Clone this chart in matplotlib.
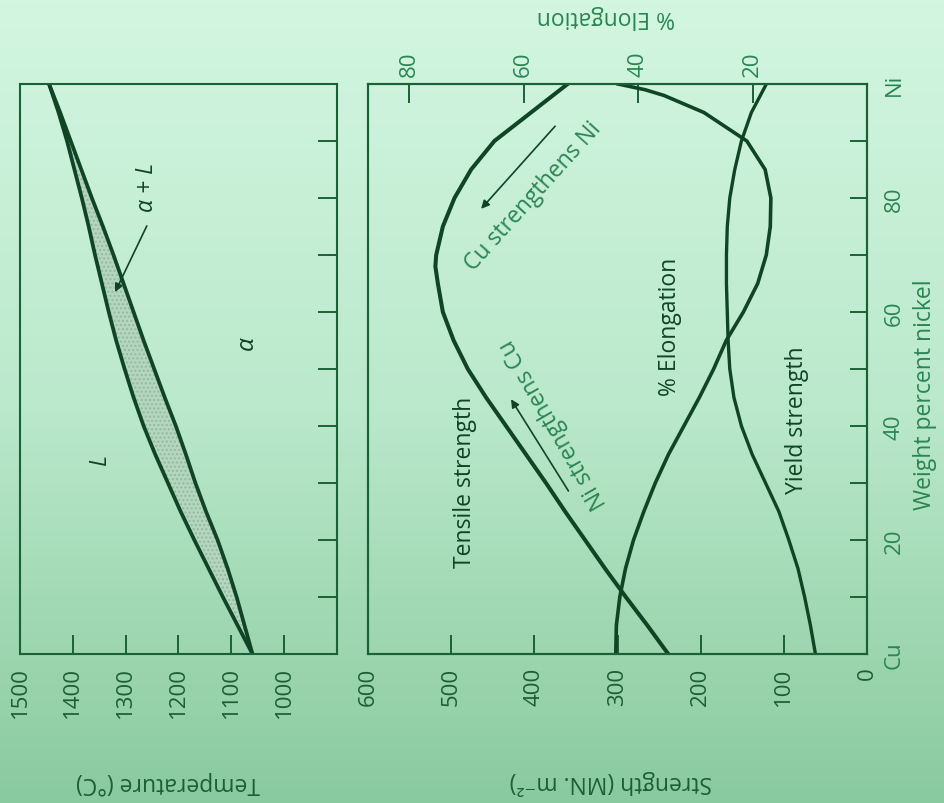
import numpy as np
import matplotlib
matplotlib.use('Agg')
import matplotlib.pyplot as plt
from matplotlib.colors import LinearSegmentedColormap

plt.rcParams['font.family'] = ['Open Sans', 'DejaVu Sans']

# ---------------- data ----------------
phase_wt = [0, 5, 10, 15, 20, 25, 30, 35, 40, 45, 50, 55, 60, 65, 70, 75, 80, 85, 90, 95, 100]
liquidus = [1060, 1088, 1116, 1143, 1170, 1196, 1220, 1244, 1266, 1285, 1302, 1318, 1332, 1345,
            1358, 1370, 1383, 1397, 1411, 1427, 1445]
solidus = [1060, 1075, 1090, 1107, 1126, 1148, 1168, 1186, 1205, 1226, 1246, 1266, 1285, 1304,
           1323, 1343, 1364, 1384, 1404, 1424, 1445]

tensile_wt = [0, 5, 10, 15, 20, 25, 30, 35, 40, 45, 50, 55, 60, 65, 68, 70, 75, 80, 85, 90, 95, 100]
tensile = [239, 264, 290, 315, 339, 363, 386, 410, 434, 458, 480, 497, 510, 516, 519, 518, 510,
           496, 476, 448, 404, 360]

yield_wt = [0, 5, 10, 15, 20, 25, 30, 35, 40, 45, 50, 55, 60, 65, 70, 75, 80, 85, 90, 95, 100]
yield_str = [62, 68, 75, 83, 94, 106, 122, 138, 151, 160, 165, 167, 168, 169, 169, 168, 165, 159,
             151, 139, 121]

elong_wt = [0, 5, 10, 15, 20, 25, 30, 35, 40, 45, 50, 55, 60, 65, 70, 75, 80, 85, 90, 95, 98, 99, 100]
elong = [43.9, 43.8, 43.2, 42.2, 40.8, 39.0, 37.0, 34.7, 32.0, 29.3, 26.8, 24.6, 21.6, 19.1, 17.6,
         16.9, 16.8, 17.8, 21.0, 28.5, 35.5, 38.8, 43.5]

temp_ticks = [1000, 1100, 1200, 1300, 1400, 1500]
strength_ticks = [0, 100, 200, 300, 400, 500, 600]
elong_ticks = [20, 40, 60, 80]
wt_minor = [10, 20, 30, 40, 50, 60, 70, 80, 90]
wt_ticks = [0, 10, 20, 30, 40, 50, 60, 70, 80, 90, 100]
wt_labels = ['Cu', '', '20', '', '40', '', '60', '', '80', '', 'Ni']

# ---------------- style ----------------
LINE = '#0f4524'
FRAME = '#1a6236'
TICKTXT = '#1c5e36'
ANNOT = '#2a8552'
FS = 16.5
TFS = 16

W, H = 945, 804
fig = plt.figure(figsize=(W / 100, H / 100), dpi=100)


def box(x0, y0, x1, y1):
    return [x0 / W, 1 - y1 / H, (x1 - x0) / W, (y1 - y0) / H]


bg = fig.add_axes([0, 0, 1, 1], zorder=-10)
grad = np.linspace(0, 1, 256).reshape(-1, 1)
cmap = LinearSegmentedColormap.from_list('bg', ['#d3f6e1', '#bbe9cc', '#8aca9f'])
bg.imshow(grad, aspect='auto', cmap=cmap, extent=[0, 1, 0, 1], origin='upper')
bg.axis('off')


def style_spines(ax):
    for s in ax.spines.values():
        s.set_color(FRAME)
        s.set_linewidth(1.5)


# ---------------- phase diagram panel ----------------
ax1 = fig.add_axes(box(20, 85, 337, 655))
ax1.set_facecolor('none')
ax1.set_xlim(1500, 900)
ax1.set_ylim(0, 100)
ax1.fill_betweenx(phase_wt, solidus, liquidus, facecolor='#b4d6bf', edgecolor='#93b9a0',
                  hatch='....', lw=0)
ax1.plot(liquidus, phase_wt, color=LINE, lw=2.7, solid_capstyle='round')
ax1.plot(solidus, phase_wt, color=LINE, lw=2.7, solid_capstyle='round')
ax1.set_xticks(temp_ticks)
ax1.set_xticklabels([str(t) for t in temp_ticks], rotation=90)
ax1.tick_params(axis='x', direction='in', length=14, width=1.4, pad=9, labelsize=TFS,
                color=FRAME, labelcolor=TICKTXT)
ax1.yaxis.tick_right()
ax1.set_yticks(wt_minor)
ax1.set_yticklabels([])
ax1.tick_params(axis='y', direction='in', length=14, width=1.4, color=FRAME)
style_spines(ax1)

ax1.text(1349, 34.2, 'L', rotation=90, ha='center', va='center', fontsize=FS,
         style='italic', color=LINE)
ax1.text(1260, 82.1, 'α + L', rotation=90, ha='center', va='center', fontsize=FS,
         style='italic', color=LINE)
ax1.text(1070, 54.7, 'α', rotation=90, ha='center', va='center', fontsize=FS + 1,
         style='italic', color=LINE)
ax1.annotate('', xy=(1320, 63.5), xytext=(1260, 75.1),
             arrowprops=dict(arrowstyle='-|>', color=LINE, lw=1.2, mutation_scale=12,
                             shrinkA=0, shrinkB=0))

# ---------------- strength panel ----------------
ax2 = fig.add_axes(box(368, 85, 867, 655))
ax2.set_facecolor('none')
ax3 = ax2.twiny()
ax3.set_facecolor('none')

ax2.set_xlim(600, 0)
ax2.set_ylim(0, 100)
ax3.set_xlim(87.2, 0)

ax2.plot(tensile, tensile_wt, color=LINE, lw=2.9, solid_joinstyle='round')
ax2.plot(yield_str, yield_wt, color=LINE, lw=2.4, solid_joinstyle='round')
ax3.plot(elong, elong_wt, color=LINE, lw=2.6, solid_joinstyle='round')

ax2.set_xticks(strength_ticks)
ax2.set_xticklabels([str(t) for t in strength_ticks], rotation=90)
ax2.tick_params(axis='x', direction='in', length=14, width=1.4, pad=9, labelsize=TFS,
                color=FRAME, labelcolor=TICKTXT)
ax2.yaxis.tick_right()
ax2.set_yticks(wt_ticks)
ax2.set_yticklabels(wt_labels, rotation=90, va='center')
ax2.tick_params(axis='y', direction='in', length=12, width=1.4, pad=12, labelsize=TFS,
                color=FRAME, labelcolor=ANNOT)

ax3.set_xticks(elong_ticks)
ax3.set_xticklabels([str(t) for t in elong_ticks], rotation=90)
ax3.tick_params(axis='x', direction='in', length=14, width=1.4, pad=6, labelsize=TFS,
                color=FRAME, labelcolor=ANNOT)
style_spines(ax2)
style_spines(ax3)

ax2.text(483, 30.2, 'Tensile strength', rotation=90, ha='center', va='center',
         fontsize=FS, color=LINE)
ax2.text(377, 40.5, 'Ni strengthens Cu', rotation=120, ha='center', va='center',
         fontsize=FS, color=ANNOT)
ax2.text(401, 80.4, 'Cu strengthens Ni', rotation=48, ha='center', va='center',
         fontsize=FS, color=ANNOT)
ax2.text(237, 57.5, '% Elongation', rotation=90, ha='center', va='center',
         fontsize=FS, color=LINE)
ax2.text(84, 41.2, 'Yield strength', rotation=90, ha='center', va='center',
         fontsize=FS, color=LINE)
ax2.annotate('', xy=(428, 44.7), xytext=(359, 28.6),
             arrowprops=dict(arrowstyle='-|>', color=LINE, lw=1.2, mutation_scale=12,
                             shrinkA=0, shrinkB=0))
ax2.annotate('', xy=(464, 78.1), xytext=(375, 92.6),
             arrowprops=dict(arrowstyle='-|>', color=LINE, lw=1.2, mutation_scale=12,
                             shrinkA=0, shrinkB=0))

# ---------------- axis titles (rotated like the photographed page) ----------------
fig.text(168 / W, 1 - 783 / H, 'Temperature (°C)', rotation=180, ha='center', va='center',
         fontsize=FS, color=TICKTXT)
fig.text(611 / W, 1 - 783 / H, 'Strength (MN. m⁻²)', rotation=180, ha='center', va='center',
         fontsize=FS, color=TICKTXT)
fig.text(606 / W, 1 - 17 / H, '% Elongation', rotation=180, ha='center', va='center',
         fontsize=FS, color=ANNOT)
fig.text(925 / W, 1 - 395 / H, 'Weight percent nickel', rotation=90, ha='center', va='center',
         fontsize=FS, color=ANNOT)

fig.savefig('out.png', dpi=100)
